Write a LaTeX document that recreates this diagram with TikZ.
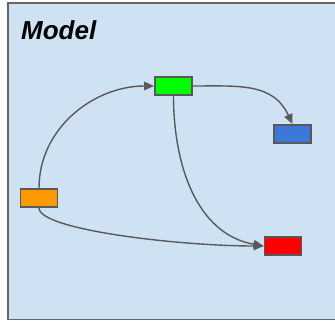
\documentclass[tikz,border=0pt]{standalone}
\usepackage{fontspec}
\setmainfont{Liberation Sans}
\usetikzlibrary{arrows.meta}
\definecolor{framebg}{HTML}{CFE2F3}
\definecolor{frameline}{HTML}{666666}
\definecolor{edgecol}{HTML}{595959}
\definecolor{cgreen}{HTML}{00FF00}
\definecolor{cblue}{HTML}{3C78D8}
\definecolor{corange}{HTML}{FF9900}
\definecolor{cred}{HTML}{FF0000}
\tikzset{
  box/.style={draw=edgecol, line width=1.8pt, minimum width=37pt, minimum height=18pt, inner sep=0pt},
  conn/.style={draw=edgecol, line width=1.4pt, -{Triangle[length=10pt,width=8.5pt]}},
}
\begin{document}
\begin{tikzpicture}[x=1pt,y=-1pt]
\useasboundingbox (0,0) rectangle (335,321);
\clip (0,0) rectangle (335,321);
\draw[fill=framebg, draw=frameline, line width=1.5pt] (8,3) rectangle (400,319.5);
\node[anchor=base west, font=\fontsize{26}{26}\selectfont\bfseries\itshape, inner sep=0pt] (title) at (21,40) {Model};
\node[box, fill=cgreen] (g) at (173.5,86) {};
\node[box, fill=cblue] (b) at (292.5,134) {};
\node[box, fill=corange] (o) at (39,198) {};
\node[box, fill=cred] (r) at (283,246) {};
\draw[conn] (o.north) to[out=90, in=180] (g.west);
\draw[conn] (g.east) to[out=0, in=115, looseness=1.1] (b.north);
\draw[conn] (g.south) to[out=-90, in=170] (r.west);
\draw[conn] (o.south) .. controls (39,230) and (180,246) .. (r.west);
\end{tikzpicture}
\end{document}
